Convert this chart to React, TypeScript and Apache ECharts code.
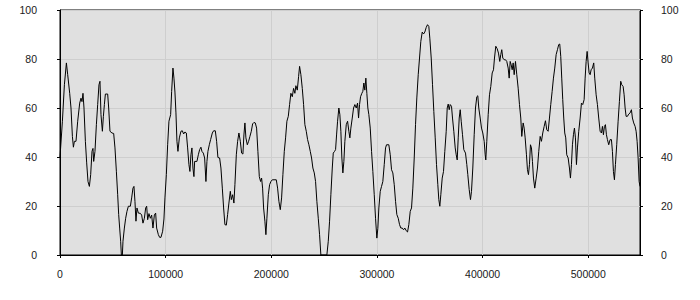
import React, { useEffect, useRef } from "react";
import * as echarts from "echarts";

// x positions (data units) of the traced points
const xValues: number[] = [
  0, 2270, 4163, 6055, 7285, 9177, 10407, 11731, 12677, 13624, 15137, 16746, 18638, 19868, 20814, 21760, 22706, 24031, 25260, 26490,
  27815, 29045, 30275, 31221, 31883, 33113, 34438, 35668, 36897, 37843, 38790, 40114, 41060, 42006, 42953, 45128, 46075, 47305, 49196, 50805,
  52035, 53359, 54590, 55536, 56482, 57428, 58090, 59036, 59604, 60929, 62158, 63388, 64713, 66605, 67835, 69065, 70011, 70957, 71904, 72850,
  74174, 76066, 77296, 78526, 79851, 81080, 82027, 82973, 84201, 85527, 86757, 87987, 89311, 90541, 91487, 93096, 94325, 95555, 97164, 98394,
  99340, 100665, 101894, 103124, 104732, 105678, 106907, 107855, 108801, 109747, 110694, 111640, 112964, 114474, 115799, 117029, 118259, 119584, 120813, 122043,
  122989, 123935, 124882, 125828, 126774, 127436, 129611, 130936, 132166, 133396, 134342, 135666, 136896, 138127, 139073, 140020, 141344, 142574, 144183, 145413,
  147021, 148250, 149480, 151090, 152322, 153646, 154876, 156106, 157430, 158660, 159891, 161215, 162161, 163389, 164621, 165568, 166892, 168121, 169352, 170676,
  171906, 173136, 174082, 175029, 175975, 177299, 178529, 179759, 181083, 182313, 183543, 184868, 186098, 187328, 188652, 189882, 190828, 191774, 192721, 193951,
  194897, 195843, 197167, 198397, 199627, 200951, 204736, 205966, 207196, 208520, 209750, 210980, 212304, 213534, 214764, 216088, 217318, 218548, 219872, 221102,
  222332, 223278, 224603, 225833, 226779, 228009, 229333, 230563, 231793, 233117, 234347, 235577, 236901, 238131, 239361, 240685, 241915, 243145, 244469, 245699,
  246929, 252605, 253930, 255160, 256390, 257714, 258660, 259890, 260836, 261782, 262729, 263952, 264908, 265854, 266800, 267746, 268692, 269639, 270963, 272193,
  273423, 274369, 275315, 276639, 277869, 279100, 280424, 281654, 282600, 283546, 284492, 285719, 286666, 287612, 288558, 289504, 290451, 291397, 292343, 293667,
  294897, 296127, 297451, 298681, 299911, 300857, 301804, 303128, 304358, 305588, 306912, 308142, 309088, 311267, 312591, 313821, 315051, 316375, 317605, 318835,
  320159, 321389, 322619, 323943, 325173, 326403, 327727, 328957, 330187, 331511, 332741, 333971, 335295, 336525, 337755, 339079, 340309, 341539, 342863, 344093,
  345323, 346647, 347877, 349107, 350057, 351377, 352607, 353837, 355161, 356391, 357621, 358567, 359514, 360460, 361784, 363014, 364244, 365568, 366515, 367461,
  368407, 369353, 370583, 371529, 372759, 374083, 375030, 375976, 376922, 377868, 378815, 379761, 380991, 382220, 383829, 385059, 386005, 387329, 388559, 389505,
  390735, 392060, 393290, 394520, 395466, 396412, 397736, 398966, 400196, 401520, 402466, 403033, 403979, 405304, 406534, 407764, 409088, 410318, 411264, 412490,
  413814, 415044, 416275, 417221, 418167, 419113, 420438, 421668, 422897, 424222, 425168, 426114, 427060, 428007, 428953, 429899, 431129, 432359, 433683, 434913,
  436143, 437089, 438414, 439360, 440306, 441532, 442478, 443425, 444371, 445317, 446263, 447209, 448155, 449385, 450712, 451942, 453170, 454494, 455724, 456955,
  458279, 459509, 460739, 462063, 463293, 464523, 465847, 467077, 468307, 469632, 470862, 472092, 473038, 473984, 474930, 475876, 476823, 477769, 478715, 479661,
  480986, 482216, 483162, 484108, 485054, 486001, 486947, 487893, 488839, 489785, 491015, 492340, 493570, 494800, 496124, 497070, 498016, 498963, 499909, 500855,
  501801, 502747, 503977, 505207, 506154, 507478, 508708, 509938, 511262, 512492, 513438, 514385, 515331, 516277, 517223, 518170, 519399, 520724, 521954, 522900,
  523846, 524792, 525739, 526965, 528290, 529520, 530750, 531697, 533021, 533967, 534913, 535859, 537089, 538319, 539644, 540874, 541820, 543050, 544374, 545320,
  546267, 547213, 548159, 549000,
];

// y values of the traced points
const yValues: number[] = [
  40, 54.6, 69.5, 78.4, 73.6, 66, 60, 48.4, 44, 46.4, 46.4, 54.6, 62, 64, 62.6, 66, 60, 46.4, 37.6, 30,
  28, 32.8, 42.3, 43.5, 38.2, 42.3, 53.2, 61.4, 69.5, 70.9, 57.3, 50.5, 56.6, 61.4, 65.7, 65.7, 60, 50.5, 49.8, 49.6,
  43.7, 34.2, 24.6, 16.5, 11, 5.6, 0, 0, 5.6, 11, 15, 17.8, 19.9, 19.9, 23.3, 27.3, 28, 21.9, 13.8, 19.2,
  17.1, 17, 16.3, 13, 15, 19.2, 19.9, 14.4, 16.9, 15, 16.3, 11, 16.3, 17.1, 11, 8.3, 7.2, 7.2, 9.7, 14.7,
  23.3, 32.8, 45, 54.6, 57.3, 66.8, 76.3, 72.2, 66.5, 58, 46.4, 42.3, 47.8, 50.5, 50.7, 49.4, 50.2, 49.8, 43.7, 36.9,
  34.1, 40.9, 43.7, 35.5, 32, 38.2, 38.2, 40.9, 43, 44, 42.3, 41.6, 39.6, 30, 38.2, 42.3, 45, 47.1, 49.8, 50.7,
  50.7, 46.4, 39.8, 39.6, 35.5, 27.3, 19.2, 12.4, 12.2, 16.5, 21.2, 26, 22.6, 24.6, 21.2, 28.7, 40.9, 46.4, 49.8, 46.4,
  41.6, 41.2, 49, 53.9, 47.8, 45, 46.4, 48.4, 50.5, 53.5, 54.1, 53.9, 51.8, 42.3, 32, 30, 31.4, 27.3, 19.2, 13.8,
  8.3, 15, 24.6, 28.7, 30, 30.7, 30.7, 27.3, 21.9, 18.5, 23.3, 32.8, 42.3, 47.8, 54.6, 56.6, 61.4, 66, 64.6, 68,
  66, 69.1, 67.3, 72.8, 77, 73.6, 68, 61.4, 53.2, 50.5, 47.1, 45, 42.3, 39.6, 35.5, 33.5, 30, 21.9, 15, 8.3,
  0, 0, 5.6, 13.8, 24.6, 35.5, 41.6, 42.3, 43, 49, 54.6, 60, 57.3, 50.5, 39.6, 33.5, 38.2, 46.4, 53.2, 54.6,
  50.5, 47.8, 51.8, 55.9, 60, 61.4, 60, 62, 55.9, 61.4, 64.6, 66, 66.8, 70.2, 67.3, 72.2, 66, 60, 57.3, 51.8,
  42.3, 34.1, 24.6, 15, 6.9, 10.9, 19.2, 26, 28, 30, 36.9, 43.7, 45, 45, 40.9, 34.8, 33.5, 28.7, 21.9, 16.5,
  15, 12.4, 11, 11, 10.3, 11, 9.9, 9.4, 12.4, 17.8, 19.2, 27.3, 39.6, 53.2, 64.1, 73.6, 80.4, 87.2, 91, 90.2,
  91, 92.9, 94, 93.3, 88.5, 80.4, 69.5, 58.6, 47.8, 36.9, 28.7, 22.6, 19.9, 24.6, 31.4, 34.1, 42.3, 50.5, 60, 61.6,
  59.3, 61.4, 60.7, 55.9, 50.5, 43.7, 40.9, 38.8, 47.8, 55.9, 59.3, 54.6, 49.1, 43, 41.6, 36.9, 32.8, 26.7, 22.6, 26,
  35.5, 49.1, 60, 64.6, 65, 60, 55.9, 51.8, 49.8, 46.4, 40.9, 38.8, 46.4, 57.3, 65.4, 68.8, 74.3, 75.6, 80.4, 85.2,
  84.2, 82.4, 79, 81.8, 83.8, 80.4, 79.7, 79.7, 79, 76.3, 72.2, 79, 77.6, 75.6, 78.4, 73.6, 79, 73.6, 68.1, 61.4,
  55.9, 48.4, 53.9, 51.8, 47.8, 40.9, 34.8, 32.8, 36.9, 45, 43.7, 38.2, 31.4, 27.3, 31.4, 35.5, 42.3, 48.4, 46.4, 49.8,
  52.5, 54.8, 51.1, 50.5, 55.9, 61.4, 66.8, 72.2, 76.3, 81.8, 83.8, 85.9, 86.1, 81.1, 72.2, 63.4, 55.9, 49.8, 47.8, 40.9,
  39.6, 35.5, 31.4, 36.9, 45, 49.1, 51.8, 47.8, 36.9, 43.7, 50.5, 55.9, 62, 61.4, 63.4, 72.2, 79, 83.1, 78.4, 74.3,
  73.6, 75.6, 76.3, 78.4, 72.2, 65.4, 61.4, 55.9, 50.5, 49.8, 52.5, 49.1, 52.5, 53.2, 49.1, 47.1, 45, 47.1, 47.1, 42.3,
  34.1, 30.7, 36.9, 45, 54.6, 62.7, 70.9, 69.5, 68.8, 65.4, 60, 56.6, 56.6, 57.5, 58, 59.3, 55.9, 53.9, 52.5, 50.5,
  46.4, 39.6, 30, 28,
];

const xMin = 0;
const xMax = 549000;
const xInterval = 100000;
const yMin = 0;
const yMax = 100;
const yInterval = 20;

export default function App() {
  const ref = useRef<HTMLDivElement>(null);

  useEffect(() => {
    if (!ref.current) return;
    const chart = echarts.init(ref.current, undefined, { renderer: "svg" });
    const data = xValues.map((x, i) => [x, yValues[i]]);
    const labelStyle = {
      color: "#1a1a1a",
      fontFamily: "Liberation Sans, Arial, sans-serif",
      fontSize: 10.5,
      formatter: (v: number) => String(v),
    };
    const yAxisCommon = {
      type: "value" as const,
      min: yMin,
      max: yMax,
      interval: yInterval,
      axisLine: { show: true, lineStyle: { color: "#000", width: 1 } },
      axisTick: { show: true, length: 3, lineStyle: { color: "#000" } },
      splitLine: { show: true, lineStyle: { color: "#cecece", width: 1 } },
    };
    chart.setOption({
      animation: false,
      backgroundColor: "#ffffff",
      grid: {
        left: 60,
        right: 60,
        top: 10,
        bottom: 45,
        show: true,
        backgroundColor: "#e0e0e0",
        borderColor: "#000",
        borderWidth: 1,
      },
      xAxis: {
        type: "value",
        min: xMin,
        max: xMax,
        interval: xInterval,
        axisLine: { show: true, onZero: false, lineStyle: { color: "#000", width: 1 } },
        axisTick: { show: true, length: 3, lineStyle: { color: "#000" } },
        axisLabel: { ...labelStyle, margin: 13, showMaxLabel: false },
        splitLine: { show: true, lineStyle: { color: "#cecece", width: 1 } },
      },
      yAxis: [
        {
          ...yAxisCommon,
          position: "left",
          axisLabel: { ...labelStyle, margin: 23 },
        },
        {
          ...yAxisCommon,
          position: "right",
          splitLine: { show: false },
          axisLabel: { ...labelStyle, margin: 21 },
        },
      ],
      series: [
        {
          type: "line",
          data,
          yAxisIndex: 0,
          showSymbol: false,
          symbol: "none",
          lineStyle: { color: "#000", width: 1 },
        },
      ],
    });
    return () => chart.dispose();
  }, []);

  return (
    <div
      ref={ref}
      style={{ position: "fixed", left: 0, top: 0, width: 700, height: 300 }}
    />
  );
}
